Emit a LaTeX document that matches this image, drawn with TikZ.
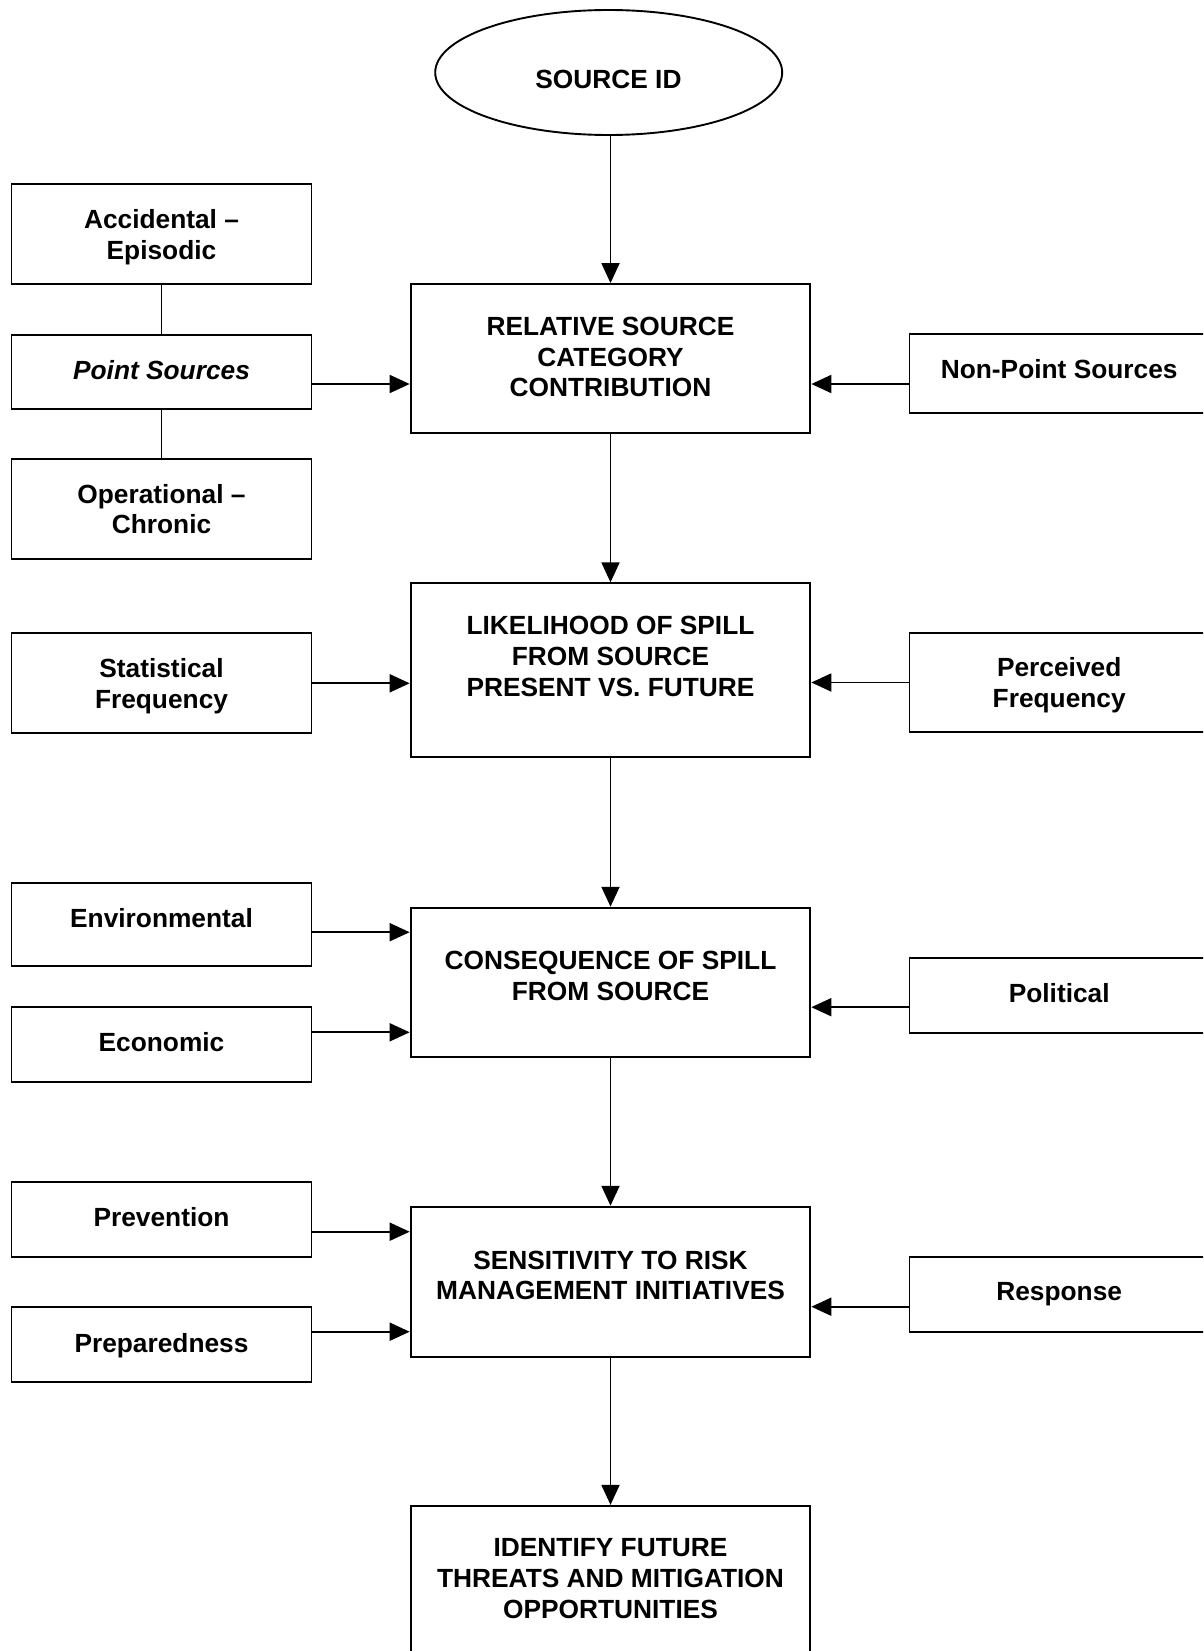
\documentclass[tikz,border=0pt]{standalone}
\usepackage{fontspec}
\setmainfont{Liberation Sans}
\usetikzlibrary{arrows.meta,shapes.geometric}
\begin{document}
\begin{tikzpicture}[x=1pt,y=-1pt,
  box/.style={draw=black,line width=1.9pt,rectangle,inner sep=0pt},
  mainbox/.style={box,minimum width=399.8pt},
  sidebox/.style={box,minimum width=300pt},
  txt/.style={font=\fontsize{26.3pt}{30.8pt}\selectfont\bfseries,align=center,anchor=north,inner sep=0pt},
  arr/.style={line width=1.9pt,-{Triangle[length=20pt,width=18pt]}},
  link/.style={line width=1.9pt}]
\useasboundingbox (0,0) rectangle (1203,1651);
\clip (0,0) rectangle (1203,1651);
\fill[white] (0,0) rectangle (1203,1651);

% source ellipse
\node[ellipse,draw=black,line width=1.9pt,minimum width=347pt,minimum height=125pt,inner sep=0pt] (src) at (608.7,72.5) {};
\node[txt] (srct) at (608.5,69.5) {SOURCE ID};

% main column
\node[mainbox,minimum height=149.3pt] (rel) at (610.5,358.7) {};
\node[mainbox,minimum height=173.4pt] (lik) at (610.5,670) {};
\node[mainbox,minimum height=149.6pt] (con) at (610.5,982.5) {};
\node[mainbox,minimum height=150pt] (sen) at (610.5,1281.7) {};
\node[mainbox,minimum height=150pt] (ide) at (610.5,1580.8) {};

\node[txt] (relt) at (610.5,316.7) {RELATIVE SOURCE\\CATEGORY\\CONTRIBUTION};
\node[txt] (likt) at (610.5,616.2) {LIKELIHOOD OF SPILL\\FROM SOURCE\\PRESENT VS. FUTURE};
\node[txt] (cont) at (610.5,951.2) {CONSEQUENCE OF SPILL\\FROM SOURCE};
\node[txt] (sent) at (610.5,1250.5) {SENSITIVITY TO RISK\\MANAGEMENT INITIATIVES};
\node[txt] (idet) at (610.5,1538.5) {IDENTIFY FUTURE\\THREATS AND MITIGATION\\OPPORTUNITIES};

% left column
\node[sidebox,minimum height=100pt] (acc) at (161.5,234.3) {};
\node[sidebox,minimum height=74pt] (ps) at (161.5,372) {};
\node[sidebox,minimum height=100pt] (op) at (161.5,509) {};
\node[sidebox,minimum height=100pt] (stat) at (161.5,683.3) {};
\node[sidebox,minimum height=83pt] (env) at (161.5,924.2) {};
\node[sidebox,minimum height=75.3pt] (eco) at (161.5,1044.7) {};
\node[sidebox,minimum height=75.3pt] (prev) at (161.5,1219.3) {};
\node[sidebox,minimum height=75pt] (prep) at (161.5,1344.2) {};

\node[txt] (acct) at (161.5,209.5) {Accidental –\\Episodic};
\node[txt] (pst) at (161.5,360.5) {\itshape Point Sources};
\node[txt] (opt) at (161.5,483.8) {Operational –\\Chronic};
\node[txt] (statt) at (161.5,658) {Statistical\\Frequency};
\node[txt] (envt) at (161.5,908.5) {Environmental};
\node[txt] (ecot) at (161.5,1032.2) {Economic};
\node[txt] (prevt) at (161.5,1207.2) {Prevention};
\node[txt] (prept) at (161.5,1332.8) {Preparedness};

% right column
\node[box,minimum width=299.5pt,minimum height=79pt] (np) at (1059.2,373.2) {};
\node[box,minimum width=299.5pt,minimum height=99.6pt] (perc) at (1059.2,682.5) {};
\node[box,minimum width=299.5pt,minimum height=75pt] (pol) at (1059.2,995.2) {};
\node[box,minimum width=299.5pt,minimum height=75.3pt] (resp) at (1059.2,1294.3) {};

\node[txt] (npt) at (1059.2,359) {Non-Point Sources};
\node[txt] (perct) at (1059.2,657.7) {Perceived\\Frequency};
\node[txt] (polt) at (1059.2,983) {Political};
\node[txt] (respt) at (1059.2,1282.4) {Response};

% vertical flow
\draw[arr] (rel.north |- src.south) -- (rel.north);
\draw[arr] (rel.south) -- (lik.north);
\draw[arr] (lik.south) -- (con.north);
\draw[arr] (con.south) -- (sen.north);
\draw[arr] (sen.south) -- (ide.north);

% left links
\draw[link] (acc.south) -- (ps.north);
\draw[link] (ps.south) -- (op.north);

% left arrows
\draw[arr] ([yshift=-12pt]ps.east) -- ([yshift=-12pt]ps.east -| rel.west);
\draw[arr] (stat.east) -- (stat.east -| lik.west);
\draw[arr] ([yshift=-8pt]env.east) -- ([yshift=-8pt]env.east -| con.west);
\draw[arr] ([yshift=12.4pt]eco.east) -- ([yshift=12.4pt]eco.east -| con.west);
\draw[arr] ([yshift=-12.4pt]prev.east) -- ([yshift=-12.4pt]prev.east -| sen.west);
\draw[arr] ([yshift=12.5pt]prep.east) -- ([yshift=12.5pt]prep.east -| sen.west);

% right arrows
\draw[arr] ([yshift=-10.8pt]np.west) -- ([yshift=-10.8pt]np.west -| rel.east);
\draw[arr] (perc.west) -- (perc.west -| lik.east);
\draw[arr] ([yshift=-12pt]pol.west) -- ([yshift=-12pt]pol.west -| con.east);
\draw[arr] ([yshift=-12.4pt]resp.west) -- ([yshift=-12.4pt]resp.west -| sen.east);
\end{tikzpicture}
\end{document}
